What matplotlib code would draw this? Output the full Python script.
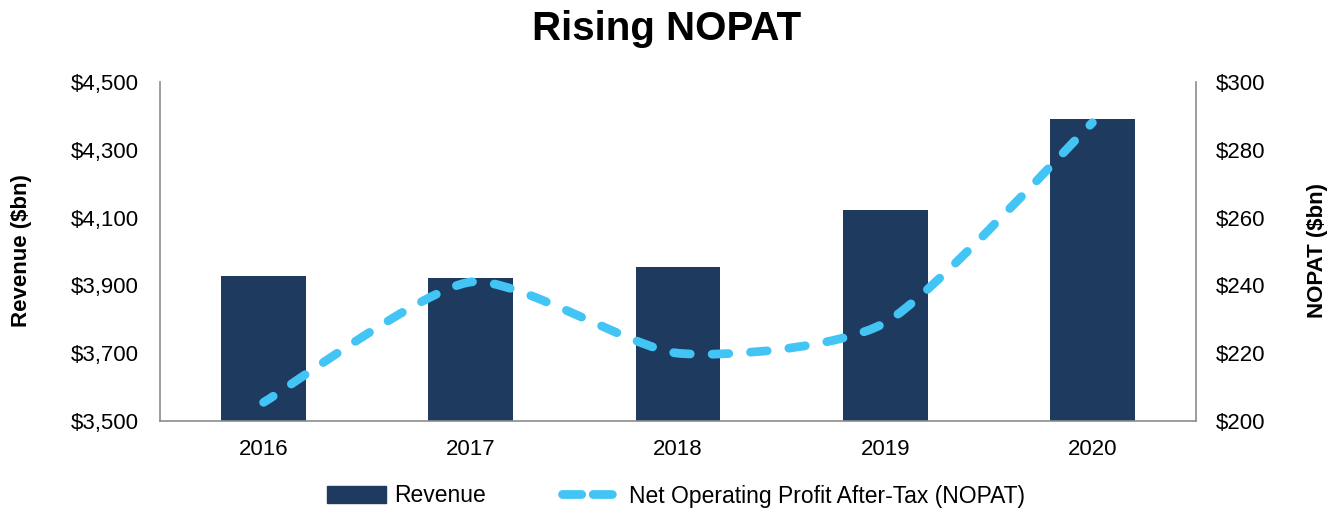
import numpy as np
import matplotlib
matplotlib.use("Agg")
from matplotlib import pyplot as plt
from matplotlib.path import Path
from matplotlib.patches import PathPatch
from matplotlib.lines import Line2D
from matplotlib.ticker import FuncFormatter

years = ["2016", "2017", "2018", "2019", "2020"]
revenue = [3928, 3921, 3953, 4123, 4391]
nopat = [205.5, 241.0, 220.0, 229.0, 288.0]

bar_color = "#1f3a5f"
line_color = "#42c5f4"
axis_color = "#8c8c8c"

plt.rcParams["font.family"] = ["Liberation Sans", "DejaVu Sans"]


def smooth_path(xs, ys, tension=0.11):
    # smoothed line through the points (like a spreadsheet "smoothed line"),
    # built from cubic Bezier segments
    pts = np.column_stack([xs, ys]).astype(float)
    n = len(pts)
    verts = [pts[0]]
    codes = [Path.MOVETO]
    for i in range(n - 1):
        p0 = pts[i - 1] if i > 0 else pts[i]
        p1, p2 = pts[i], pts[i + 1]
        p3 = pts[i + 2] if i + 2 < n else pts[i + 1]
        c1 = p1 + (p2 - p0) * tension
        c2 = p2 - (p3 - p1) * tension
        verts += [c1, c2, p2]
        codes += [Path.CURVE4] * 3
    return Path(verts, codes)


W, H = 1338, 512
fig = plt.figure(figsize=(W / 100, H / 100), dpi=100)
ax = fig.add_axes([160 / W, 1 - 421 / H, 1036 / W, 339 / H])
ax2 = ax.twinx()

x = np.arange(len(years))
ax.bar(x, revenue, width=0.41, color=bar_color, zorder=2)
ax.set_xlim(-0.5, len(years) - 0.5)
ax.set_ylim(3500, 4500)
ax.set_yticks(np.arange(3500, 4501, 200))
ax.yaxis.set_major_formatter(FuncFormatter(lambda v, p: "${:,.0f}".format(v)))
ax.set_xticks(x)
ax.set_xticklabels(years)

ax2.set_ylim(200, 300)
ax2.set_yticks(np.arange(200, 301, 20))
ax2.yaxis.set_major_formatter(FuncFormatter(lambda v, p: "${:,.0f}".format(v)))

patch = PathPatch(smooth_path(x, nopat), fill=False, edgecolor=line_color,
                  linewidth=6.3, linestyle=(0.6, (1.9, 2.5)), capstyle="round",
                  zorder=3)
ax2.add_patch(patch)

for a in (ax, ax2):
    for s in a.spines.values():
        s.set_visible(False)
    a.tick_params(length=0, labelsize=16)
ax.spines["left"].set_visible(True)
ax.spines["bottom"].set_visible(True)
ax2.spines["right"].set_visible(True)
for s in (ax.spines["left"], ax.spines["bottom"], ax2.spines["right"]):
    s.set_color(axis_color)
    s.set_linewidth(1.2)
ax.tick_params(axis="y", pad=15)
ax.tick_params(axis="x", pad=13)
ax2.tick_params(axis="y", pad=14)

fig.text(22 / W, 1 - 251 / H, "Revenue ($bn)", rotation=90, ha="center",
         va="center", fontsize=16, fontweight="bold")
fig.text(1318 / W, 1 - 251 / H, "NOPAT ($bn)", rotation=90, ha="center",
         va="center", fontsize=16, fontweight="bold")

fig.text(0.498, 1 - 29 / H, "Rising NOPAT", ha="center", va="center",
         fontsize=29, fontweight="bold")

handles = [
    plt.Rectangle((0, 0), 1, 1, color=bar_color),
    Line2D([], [], color=line_color, linewidth=6.3, linestyle=(0, (2.2, 1.3)),
           dash_capstyle="round"),
]
fig.legend(handles, ["Revenue", "Net Operating Profit After-Tax (NOPAT)"],
           loc="center", bbox_to_anchor=(676 / W, 16 / H), ncol=2,
           frameon=False, fontsize=16.5, handlelength=2.6, columnspacing=3.3,
           handletextpad=0.35, borderpad=0)

fig.savefig("out.png", dpi=100)
